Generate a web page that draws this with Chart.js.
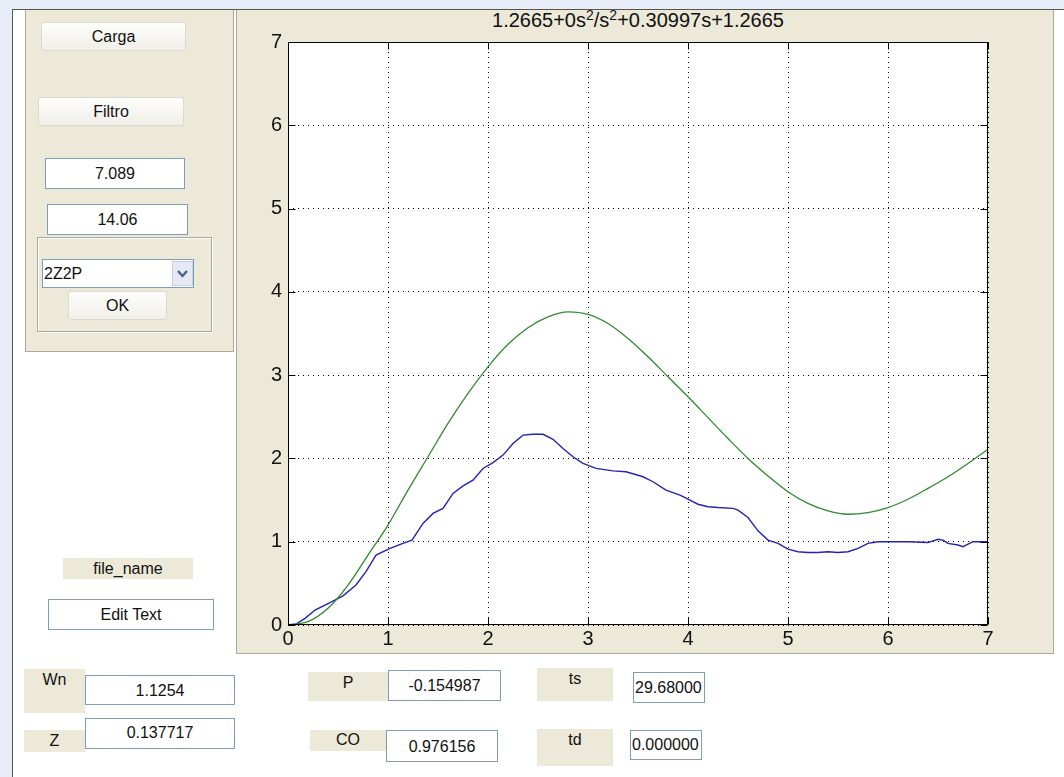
<!DOCTYPE html>
<html>
<head>
<meta charset="utf-8">
<script src="https://cdn.jsdelivr.net/npm/chart.js@4.4.0/dist/chart.umd.min.js"></script>
<style>
    body {
        margin: 0;
        width: 1064px;
        height: 777px;
        position: relative;
        overflow: hidden;
        background: #fff;
        font-family: "Liberation Sans", Arial, sans-serif;
        font-size: 16px;
        color: #111;
    }
    .abs { position: absolute; box-sizing: border-box; }
    .panel { background: #ece9d8; border: 1px solid #aca899; border-top: none; }
    .subpanel { border: 1px solid #aca899; box-shadow: inset 1px 1px 0 #fff, 1px 1px 0 #fff; }
    .btn {
        background: linear-gradient(#fdfdfb, #f0efe9);
        border: 1px solid #dcdad0;
        border-radius: 3px;
        text-align: center;
    }
    .edit {
        background: #fff;
        border: 1px solid #7f9db9;
        text-align: center;
        white-space: nowrap;
        overflow: hidden;
    }
    .lbl { background: #ece9d8; text-align: center; white-space: nowrap; }
    #title { font-size: 20px; line-height: 22px; text-align: center; white-space: nowrap; }
    #title sup { font-size: 14px; line-height: 0; vertical-align: 7px; }
</style>
</head>
<body>
    <!-- window frame -->
    <div class="abs" style="left:0;top:0;width:1064px;height:9px;background:#e8edf7"></div>
    <div class="abs" style="left:0;top:0;width:12px;height:777px;background:#e8edf7"></div>
    <div class="abs" style="left:12px;top:9px;width:1052px;height:1px;background:#555"></div>
    <div class="abs" style="left:12px;top:9px;width:1px;height:768px;background:#555"></div>

    <!-- left control panel -->
    <div class="abs panel" style="left:25px;top:10px;width:209px;height:342px"></div>
    <div class="abs btn" style="left:41px;top:22px;width:145px;height:29px;line-height:27px">Carga</div>
    <div class="abs btn" style="left:38px;top:97px;width:146px;height:29px;line-height:27px">Filtro</div>
    <div class="abs edit" style="left:45px;top:158px;width:140px;height:31px;line-height:29px">7.089</div>
    <div class="abs edit" style="left:47px;top:204px;width:141px;height:31px;line-height:29px">14.06</div>
    <div class="abs subpanel" style="left:37px;top:237px;width:175px;height:95px"></div>
    <div class="abs edit" style="left:42px;top:259px;width:152px;height:29px;line-height:27px;text-align:left;padding-left:1px">2Z2P</div>
    <div class="abs" style="left:172px;top:261px;width:21px;height:25px;background:#e4e9f4;border:1px solid #c3cfe6">
        <svg width="19" height="23"><polyline points="5,9 9.5,14 14,9" fill="none" stroke="#4d6185" stroke-width="2.4"/></svg>
    </div>
    <div class="abs btn" style="left:68px;top:291px;width:99px;height:29px;line-height:27px">OK</div>

    <div class="abs lbl" style="left:63px;top:558px;width:130px;height:21px;line-height:21px">file_name</div>
    <div class="abs edit" style="left:48px;top:599px;width:166px;height:31px;line-height:29px">Edit Text</div>

    <!-- axes panel -->
    <div class="abs panel" style="left:236px;top:10px;width:818px;height:644px"></div>
    <div class="abs" id="title" style="left:288px;top:9px;width:700px">1.2665+0s<sup>2</sup>/s<sup>2</sup>+0.30997s+1.2665</div>
    <div class="abs" style="left:237px;top:10px;width:816px;height:643px">
        <canvas id="plot"></canvas>
    </div>

    <!-- result fields -->
    <div class="abs lbl" style="left:24px;top:669px;width:61px;height:44px;line-height:22px">Wn</div>
    <div class="abs edit" style="left:85px;top:675px;width:150px;height:30px;line-height:30px">1.1254</div>
    <div class="abs lbl" style="left:24px;top:730px;width:61px;height:22px;line-height:22px">Z</div>
    <div class="abs edit" style="left:85px;top:718px;width:150px;height:31px;line-height:27px">0.137717</div>

    <div class="abs lbl" style="left:308px;top:672px;width:80px;height:29px;line-height:22px">P</div>
    <div class="abs edit" style="left:388px;top:670px;width:113px;height:31px;line-height:29px">-0.154987</div>
    <div class="abs lbl" style="left:310px;top:730px;width:76px;height:21px;line-height:20px">CO</div>
    <div class="abs edit" style="left:386px;top:730px;width:112px;height:32px;line-height:32px">0.976156</div>

    <div class="abs lbl" style="left:537px;top:668px;width:76px;height:33px;line-height:22px">ts</div>
    <div class="abs edit" style="left:633px;top:672px;width:72px;height:31px;line-height:29px;text-align:left;padding-left:1px">29.68000</div>
    <div class="abs lbl" style="left:537px;top:729px;width:76px;height:37px;line-height:22px">td</div>
    <div class="abs edit" style="left:630px;top:730px;width:72px;height:30px;line-height:28px;text-align:left;padding-left:1px">0.000000</div>

<script>
    // axis ticks
    const xTicks = [0, 1, 2, 3, 4, 5, 6, 7];
    const yTicks = [0, 1, 2, 3, 4, 5, 6, 7];

    // model response (green)
    const modelX = [0, 0.2, 0.4, 0.6, 0.8, 1.0, 1.2, 1.4, 1.6, 1.8, 2.0, 2.2, 2.4, 2.6, 2.8, 3.0, 3.2, 3.4,
        3.6, 3.8, 4.0, 4.2, 4.4, 4.6, 4.8, 5.0, 5.2, 5.4, 5.6, 5.8, 6.0, 6.2, 6.4, 6.6, 6.8, 7.0];
    const modelY = [0, 0.04, 0.2, 0.48, 0.84, 1.2, 1.62, 2.02, 2.42, 2.78, 3.1, 3.37, 3.57, 3.7, 3.76, 3.73, 3.62, 3.44,
        3.22, 2.98, 2.74, 2.49, 2.24, 2.0, 1.79, 1.6, 1.46, 1.37, 1.33, 1.35, 1.41, 1.51, 1.64, 1.78, 1.94, 2.11];

    // measured data (blue)
    const dataX = [0, 0.08, 0.17, 0.27, 0.42, 0.55, 0.68, 0.78, 0.88, 1.02, 1.15, 1.24, 1.35, 1.45, 1.55, 1.65, 1.75,
        1.85, 1.95, 2.05, 2.15, 2.25, 2.35, 2.45, 2.55, 2.65, 2.75, 2.85, 2.95, 3.08, 3.25, 3.38, 3.55, 3.65, 3.78,
        3.92, 4.0, 4.1, 4.2, 4.3, 4.45, 4.5, 4.6, 4.7, 4.8, 4.9, 5.0, 5.1, 5.2, 5.3, 5.4, 5.5, 5.6, 5.7, 5.8, 5.9,
        6.0, 6.2, 6.4, 6.5, 6.55, 6.6, 6.7, 6.75, 6.8, 6.85, 7.0];
    const dataY = [0, 0.01, 0.08, 0.18, 0.27, 0.35, 0.48, 0.64, 0.84, 0.92, 0.98, 1.02, 1.22, 1.34, 1.4, 1.58, 1.67,
        1.74, 1.88, 1.95, 2.04, 2.18, 2.28, 2.29, 2.29, 2.23, 2.12, 2.02, 1.94, 1.88, 1.85, 1.84, 1.78, 1.72, 1.62,
        1.56, 1.51, 1.45, 1.42, 1.41, 1.4, 1.38, 1.29, 1.13, 1.02, 0.98, 0.91, 0.88, 0.87, 0.87, 0.88, 0.87, 0.88,
        0.92, 0.98, 1.0, 1.0, 1.0, 0.99, 1.03, 1.02, 0.98, 0.96, 0.94, 0.97, 1.0, 1.0];

    const tickFont = { family: '"Liberation Sans", Arial, sans-serif', size: 20 };

    // MATLAB-style axes: white plot area, box and inward tick marks
    const axesBox = {
        id: 'axesBox',
        beforeDraw(chart) {
            const { ctx, chartArea: a } = chart;
            ctx.save();
            ctx.fillStyle = '#fff';
            ctx.fillRect(a.left, a.top, a.right - a.left, a.bottom - a.top);
            ctx.restore();
        },
        afterDraw(chart) {
            const { ctx, chartArea: a, scales } = chart;
            const L = Math.round(a.left) + 0.5, R = Math.round(a.right) - 0.5;
            const T = Math.round(a.top) + 0.5, B = Math.round(a.bottom) - 0.5;
            ctx.save();
            ctx.strokeStyle = '#000';
            ctx.lineWidth = 1;
            ctx.strokeRect(L, T, R - L, B - T);
            ctx.beginPath();
            xTicks.forEach(v => {
                const px = Math.round(scales.x.getPixelForValue(v)) + 0.5;
                ctx.moveTo(px, B); ctx.lineTo(px, B - 7);
                ctx.moveTo(px, T); ctx.lineTo(px, T + 7);
            });
            yTicks.forEach(v => {
                const py = Math.round(scales.y.getPixelForValue(v)) + 0.5;
                ctx.moveTo(L, py); ctx.lineTo(L + 7, py);
                ctx.moveTo(R, py); ctx.lineTo(R - 7, py);
            });
            ctx.stroke();
            ctx.restore();
        }
    };

    new Chart(document.getElementById('plot'), {
        type: 'scatter',
        data: {
            datasets: [
                {
                    data: modelX.map((x, i) => ({ x: x, y: modelY[i] })),
                    showLine: true,
                    borderColor: '#2f8a2f',
                    borderWidth: 1.3,
                    pointRadius: 0,
                    cubicInterpolationMode: 'monotone'
                },
                {
                    data: dataX.map((x, i) => ({ x: x, y: dataY[i] })),
                    showLine: true,
                    borderColor: '#2323b4',
                    borderWidth: 1.4,
                    pointRadius: 0,
                    tension: 0
                }
            ]
        },
        options: {
            responsive: true,
            maintainAspectRatio: false,
            animation: false,
            layout: { padding: { left: 0, top: 32, right: 65, bottom: 0 } },
            plugins: { legend: { display: false }, tooltip: { enabled: false } },
            scales: {
                x: {
                    type: 'linear',
                    min: 0,
                    max: 7,
                    afterFit: s => { s.height = 28; },
                    afterBuildTicks: s => { s.ticks = xTicks.map(v => ({ value: v })); },
                    ticks: { font: tickFont, color: '#111', padding: 2, maxRotation: 0 },
                    grid: { color: '#000', lineWidth: 1, drawTicks: false },
                    border: { display: false, dash: [1, 4] }
                },
                y: {
                    min: 0,
                    max: 7,
                    afterFit: s => { s.width = 51; },
                    afterBuildTicks: s => { s.ticks = yTicks.map(v => ({ value: v })); },
                    ticks: { font: tickFont, color: '#111', padding: 6 },
                    grid: { color: '#000', lineWidth: 1, drawTicks: false },
                    border: { display: false, dash: [1, 4] }
                }
            }
        },
        plugins: [axesBox]
    });
</script>
</body>
</html>
